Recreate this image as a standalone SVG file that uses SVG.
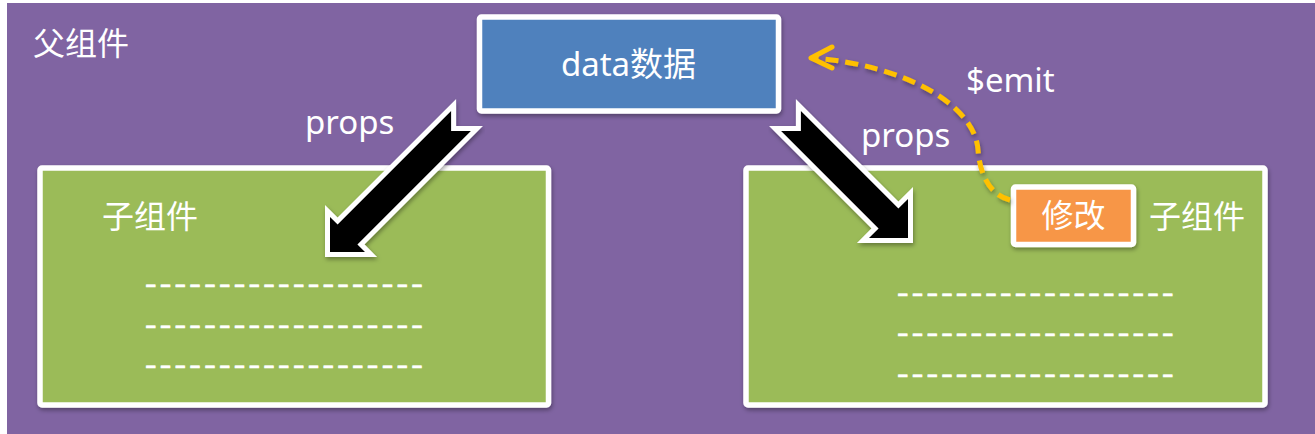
<svg xmlns="http://www.w3.org/2000/svg" width="1315" height="434" viewBox="0 0 1315 434">
  <defs>
    <filter id="shadow" x="-10%" y="-10%" width="120%" height="130%">
      <feDropShadow dx="1" dy="2.5" stdDeviation="2" flood-color="#000" flood-opacity="0.35"/>
    </filter>
    <style>
      .lbl { font-family: "Noto Sans", "Noto Sans CJK SC", sans-serif; fill: #ffffff; }
      .cjk { font-family: "Noto Sans CJK SC", sans-serif; fill: #ffffff; }
      .box { stroke: #ffffff; stroke-width: 5.5; filter: url(#shadow); }
      .dash { font-family: "Noto Sans", sans-serif; font-size: 28px; fill: #ffffff; stroke: #ffffff; stroke-width: 0.7; }
      .big { stroke: #ffffff; stroke-width: 10; stroke-linejoin: miter; stroke-miterlimit: 10; fill: #000000; paint-order: stroke fill; filter: url(#shadow); }
      .emit { fill: none; stroke: #FFC000; stroke-width: 5; }
    </style>
  </defs>
  <rect x="0" y="0" width="1315" height="434" fill="#ffffff"/>

  <g id="parent">
    <rect x="7" y="3" width="1308" height="431" fill="#8064A2"/>
    <text class="cjk" x="33" y="55" font-size="32">父组件</text>
  </g>

  <g id="child-left">
    <rect class="box" x="40" y="168" width="508.5" height="237" fill="#9BBB59" rx="2"/>
    <text class="cjk" x="102" y="228" font-size="32">子组件</text>
    <g transform="translate(145,0) scale(1.28,1)">
      <text class="dash" x="0" y="293" textLength="217" lengthAdjust="spacing">-------------------</text>
      <text class="dash" x="0" y="334" textLength="217" lengthAdjust="spacing">-------------------</text>
      <text class="dash" x="0" y="374" textLength="217" lengthAdjust="spacing">-------------------</text>
    </g>
  </g>

  <g id="child-right">
    <rect class="box" x="746" y="168" width="519" height="237" fill="#9BBB59" rx="2"/>
    <text class="cjk" x="1149" y="228" font-size="32">子组件</text>
    <g transform="translate(897,0) scale(1.28,1)">
      <text class="dash" x="0" y="302" textLength="216" lengthAdjust="spacing">-------------------</text>
      <text class="dash" x="0" y="342" textLength="216" lengthAdjust="spacing">-------------------</text>
      <text class="dash" x="0" y="383" textLength="216" lengthAdjust="spacing">-------------------</text>
    </g>
  </g>

  <g id="data">
    <rect class="box" x="479.5" y="17" width="299" height="94" fill="#4F81BD" rx="2" stroke-width="6"/>
    <text class="lbl" x="628.5" y="76" font-size="33" text-anchor="middle">data数据</text>
  </g>

  <g id="modify">
    <rect class="box" x="1013.5" y="187" width="120" height="57.5" fill="#F79646" rx="2"/>
    <text class="cjk" x="1073.5" y="227" font-size="32" text-anchor="middle">修改</text>
  </g>

  <g id="connectors">
    <polygon class="big" points="330,252 330,217 337.6,224.6 451.1,111.1 451.1,130.9 470.9,130.9 357.4,244.4 365,252"/>
    <polygon class="big" points="908,238 908,199 898.4,208.6 800.9,111.1 800.9,130.9 781.1,130.9 878.6,228.4 869,238"/>
    <text class="lbl" x="305" y="134" font-size="33">props</text>
    <text class="lbl" x="861" y="147" font-size="33">props</text>
    <path class="emit" d="M1010,200 C990,195 980,175 978,150 C975,105 905,65 813,58" stroke-dasharray="13,7" filter="url(#shadow)"/>
    <polyline class="emit" points="832,47 811,58 832,68" stroke-width="5" stroke-linecap="round" stroke-linejoin="round"/>
    <text class="lbl" x="966" y="92" font-size="33">$emit</text>
  </g>
</svg>
